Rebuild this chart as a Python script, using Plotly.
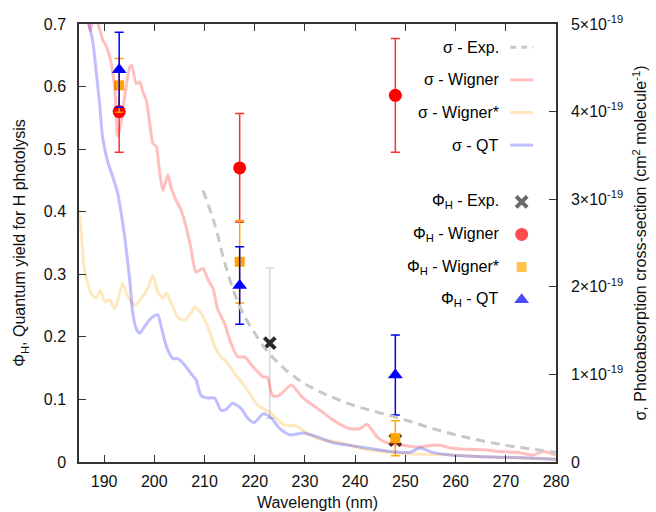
import plotly.graph_objects as go

# ---- Photoabsorption cross-sections (units of 1e-19 cm^2 molecule^-1) ----
wl_exp = [209.7, 212, 214, 216, 218, 220, 222, 224, 226, 228, 230, 232, 235, 240,
          245, 250, 255, 260, 265, 270, 275, 280]
sigma_exp = [3.10, 2.72, 2.28, 1.92, 1.66, 1.47, 1.30, 1.17, 1.06, 0.97, 0.89, 0.83,
             0.75, 0.64, 0.56, 0.48, 0.39, 0.31, 0.245, 0.19, 0.15, 0.11]

wl_wigner = [185.5, 186.5, 187.2, 187.9, 188.7, 189.7, 190.4, 191.1, 192.1, 192.7,
             193.3, 194.1, 195.1, 195.5, 196.4, 197.1, 197.7, 198.4, 199.0, 199.7,
             200.4, 201.0, 201.7, 202.7, 203.3, 204.3, 205.3, 206.3, 207.3, 208.3,
             209.7, 210.7, 211.7, 212.6, 214.0, 215.3, 216.6, 218.0, 219.3, 220.6,
             221.7, 222.5, 223.5, 224.5, 225.3, 227.3, 229.3, 231.0, 233.0, 235.3,
             237.0, 239.0, 240.9, 242.3, 243.3, 244.3, 245.5, 247.0, 249.6, 252.2,
             255.5, 257.0, 258.9, 262.2, 265.5, 268.8, 272.2, 275.5, 277.4, 280.0]
sigma_wigner = [5.7, 5.2, 4.92, 5.05, 5.01, 4.82, 4.75, 4.63, 4.28, 3.72,
                3.85, 4.17, 4.51, 4.53, 4.32, 4.34, 4.23, 4.13, 3.90, 3.64,
                3.60, 3.33, 3.10, 3.28, 3.14, 2.99, 2.88, 2.69, 2.44, 2.17,
                2.21, 2.08, 1.98, 1.75, 1.58, 1.35, 1.20, 1.20, 1.11, 1.03,
                0.97, 0.97, 0.76, 0.75, 0.78, 0.88, 0.75, 0.67, 0.59, 0.49,
                0.43, 0.38, 0.38, 0.43, 0.37, 0.29, 0.24, 0.21, 0.19, 0.17,
                0.19, 0.19, 0.16, 0.145, 0.14, 0.12, 0.11, 0.08, 0.12, 0.08]

wl_wigner_star = [185.0, 185.4, 186.1, 187.4, 188.4, 189.3, 190.1, 191.1, 192.1, 193.1,
                  193.7, 194.7, 196.1, 197.4, 198.7, 199.7, 200.7, 201.7, 202.4, 203.4,
                  204.7, 206.0, 207.3, 208.0, 209.3, 210.7, 212.0, 213.3, 214.6, 216.0,
                  217.3, 218.6, 220.0, 221.0, 222.9, 225.7, 228.3, 231.0, 233.6, 236.3,
                  239.0, 242.3, 245.6, 248.9, 252.2, 258.9, 265.5, 280.0]
sigma_wigner_star = [2.85, 2.65, 2.19, 1.93, 1.87, 1.96, 1.83, 1.85, 1.75, 1.93,
                     2.04, 1.89, 1.79, 1.87, 1.98, 2.13, 1.94, 1.87, 1.93, 1.81,
                     1.65, 1.62, 1.70, 1.77, 1.70, 1.54, 1.32, 1.20, 1.13, 1.01,
                     0.92, 0.82, 0.69, 0.63, 0.57, 0.43, 0.41, 0.31, 0.25, 0.23,
                     0.19, 0.14, 0.12, 0.10, 0.09, 0.08, 0.06, 0.03]

wl_qt = [185.5, 186.8, 187.7, 188.4, 189.1, 189.7, 190.7, 191.7, 192.7, 193.4,
         194.1, 195.1, 195.7, 196.4, 197.1, 198.0, 199.0, 200.0, 200.7, 201.4,
         202.4, 203.7, 204.7, 206.0, 207.3, 208.3, 209.3, 210.7, 212.0, 213.3,
         214.3, 215.6, 217.3, 218.6, 219.9, 221.7, 223.3, 225.0, 227.0, 229.6,
         232.3, 235.6, 239.0, 242.3, 245.6, 248.9, 250.9, 252.9, 255.5, 258.9,
         265.5, 272.2, 280.0]
sigma_qt = [6.0, 5.05, 4.82, 4.47, 4.09, 3.71, 3.43, 3.26, 3.07, 2.84,
            2.57, 2.08, 1.70, 1.52, 1.47, 1.54, 1.62, 1.67, 1.68, 1.54,
            1.32, 1.18, 1.18, 1.11, 1.01, 0.94, 0.76, 0.73, 0.73, 0.59,
            0.60, 0.67, 0.61, 0.50, 0.45, 0.55, 0.50, 0.38, 0.31, 0.33,
            0.29, 0.22, 0.19, 0.16, 0.13, 0.11, 0.11, 0.16, 0.11, 0.08,
            0.06, 0.05, 0.03]

# ---- Quantum yields for H photolysis ----
wl_phi_exp = [223, 248]
phi_exp = [0.19, 0.035]
phi_exp_err = [0.12, 0.0]

wl_phi = [193, 217, 248]
phi_wigner = [0.56, 0.47, 0.586]
phi_wigner_err = [0.065, 0.087, 0.091]
phi_wigner_star = [0.602, 0.32, 0.038]
phi_wigner_star_err = [0.043, 0.066, 0.028]
phi_qt = [0.627, 0.282, 0.139]
phi_qt_err = [0.06, 0.062, 0.064]

sigma_ticks = [0, 1, 2, 3, 4, 5]
sigma_ticktext = ["0"] + [f"{v}\u00d710<sup>-19</sup>" for v in sigma_ticks[1:]]

FONT = "Liberation Sans, Arial, sans-serif"
AXIS_COLOR = "#333333"
FS = 16

fig = go.Figure()

# cross-section curves (right axis)
curve_styles = [
    ("\u03c3 - Wigner", wl_wigner, sigma_wigner, "rgba(255,0,0,0.25)"),
    ("\u03c3 - Wigner*", wl_wigner_star, sigma_wigner_star, "rgba(255,165,0,0.25)"),
    ("\u03c3 - QT", wl_qt, sigma_qt, "rgba(0,0,255,0.25)"),
]
for name, x, y, col in curve_styles:
    fig.add_trace(go.Scatter(x=x, y=y, mode="lines", name=name, yaxis="y2",
                             line=dict(color=col, width=3, shape="spline", smoothing=0.6)))
fig.add_trace(go.Scatter(x=wl_exp, y=sigma_exp, mode="lines", name="\u03c3 - Exp.",
                         yaxis="y2",
                         line=dict(color="#c8c8c8", width=3, dash="9px,6px",
                                   shape="spline")))

# quantum yield points (left axis)
fig.add_trace(go.Scatter(
    x=wl_phi_exp, y=phi_exp, mode="markers", name="\u03a6H - Exp.",
    marker=dict(symbol="x-thin", size=11, line=dict(color="#2a2a2a", width=4)),
    error_y=dict(type="data", array=phi_exp_err, color="#d8d8d8", thickness=1.5, width=4)))
fig.add_trace(go.Scatter(
    x=wl_phi, y=phi_wigner, mode="markers", name="\u03a6H - Wigner",
    marker=dict(symbol="circle", size=13, color="#ff0000"),
    error_y=dict(type="data", array=phi_wigner_err, color="#ff3030", thickness=1.5, width=4.5)))
fig.add_trace(go.Scatter(
    x=wl_phi, y=phi_wigner_star, mode="markers", name="\u03a6H - Wigner*",
    marker=dict(symbol="square", size=10, color="#ffa500"),
    error_y=dict(type="data", array=phi_wigner_star_err, color="#ffa500", thickness=1.5, width=4.5)))
fig.add_trace(go.Scatter(
    x=wl_phi, y=phi_qt, mode="markers", name="\u03a6H - QT",
    marker=dict(symbol="triangle-up", size=13, color="#0000ff"),
    error_y=dict(type="data", array=phi_qt_err, color="#0000ff", thickness=1.5, width=4.5)))

# ---- key placed inside the frame: text right-aligned, sample to the right ----
line_keys = [("\u03c3 - Exp.", "#c8c8c8", "dash"),
             ("\u03c3 - Wigner", "rgba(255,0,0,0.25)", "solid"),
             ("\u03c3 - Wigner*", "rgba(255,165,0,0.25)", "solid"),
             ("\u03c3 - QT", "rgba(0,0,255,0.25)", "solid")]
marker_keys = [("\u03a6<sub>H</sub> - Exp.", "x-thin", "#2a2a2a", 11),
               ("\u03a6<sub>H</sub> - Wigner", "circle", "#ff0000", 13),
               ("\u03a6<sub>H</sub> - Wigner*", "square", "#ffa500", 10),
               ("\u03a6<sub>H</sub> - QT", "triangle-up", "#0000ff", 13)]
text_right = 0.885
sample_x0, sample_x1 = 0.904, 0.952
key_step = 0.0745
line_top = 0.947
marker_top = 0.594

annotations = []
shapes = []
for i, (label, col, dash) in enumerate(line_keys):
    yk = line_top - i * key_step
    annotations.append(dict(x=text_right, y=yk, xref="paper", yref="paper", text=label,
                            showarrow=False, xanchor="right", yanchor="middle",
                            font=dict(family=FONT, size=FS, color="#000000")))
    shapes.append(dict(type="line", xref="paper", yref="paper", x0=sample_x0, x1=sample_x1,
                       y0=yk, y1=yk, line=dict(color=col, width=3,
                                               dash="6px,5px" if dash == "dash" else "solid")))

key_x, key_y, key_sym, key_col, key_size = [], [], [], [], []
for i, (label, sym, col, size) in enumerate(marker_keys):
    yk = marker_top - i * key_step
    annotations.append(dict(x=text_right, y=yk, xref="paper", yref="paper", text=label,
                            showarrow=False, xanchor="right", yanchor="middle",
                            font=dict(family=FONT, size=FS, color="#000000")))
    key_x.append((sample_x0 + sample_x1) / 2)
    key_y.append(yk)
    key_sym.append(sym)
    key_col.append(col)
    key_size.append(size)

fig.add_trace(go.Scatter(
    x=key_x, y=key_y, xaxis="x3", yaxis="y3", mode="markers", showlegend=False,
    hoverinfo="skip", cliponaxis=False,
    marker=dict(symbol=key_sym, size=key_size,
                color=[c if s != "x-thin" else "rgba(0,0,0,0)" for s, c in zip(key_sym, key_col)],
                line=dict(color=[c if s == "x-thin" else "rgba(0,0,0,0)"
                                 for s, c in zip(key_sym, key_col)],
                          width=[4 if s == "x-thin" else 0 for s in key_sym]))))

axis_common = dict(showgrid=False, zeroline=False, showline=True, linecolor=AXIS_COLOR,
                   linewidth=1.5, ticks="inside", ticklen=7, tickwidth=1.2,
                   tickcolor=AXIS_COLOR, tickfont=dict(family=FONT, size=FS, color="#111111"))

fig.update_layout(
    width=656, height=512,
    margin=dict(l=79, r=100, t=24, b=50, autoexpand=False),
    paper_bgcolor="white", plot_bgcolor="white",
    showlegend=False,
    font=dict(family=FONT, size=FS, color="#111111"),
    xaxis=dict(range=[185, 280], tickvals=[190, 200, 210, 220, 230, 240, 250, 260, 270, 280],
               mirror="ticks", ticklabelstandoff=4,
               title=dict(text="Wavelength (nm)", font=dict(family=FONT, size=FS), standoff=8),
               **axis_common),
    yaxis=dict(range=[0, 0.7], dtick=0.1, mirror=False, ticklabelstandoff=8,
               title=dict(text="\u03a6<sub>H</sub>, Quantum yield for H photolysis",
                          font=dict(family=FONT, size=FS), standoff=14),
               **axis_common),
    yaxis2=dict(range=[0, 5], overlaying="y", side="right", tickvals=sigma_ticks,
                ticktext=sigma_ticktext, ticklabelstandoff=10,
                title=dict(text="\u03c3, Photoabsorption cross-section "
                                "(cm<sup>2</sup> molecule<sup>-1</sup>)",
                           font=dict(family=FONT, size=FS), standoff=13),
                **axis_common),
    xaxis3=dict(range=[0, 1], overlaying="x", visible=False, anchor="y3"),
    yaxis3=dict(range=[0, 1], overlaying="y", visible=False, anchor="x3"),
    annotations=annotations,
    shapes=shapes,
)

fig.write_html("out.html")
